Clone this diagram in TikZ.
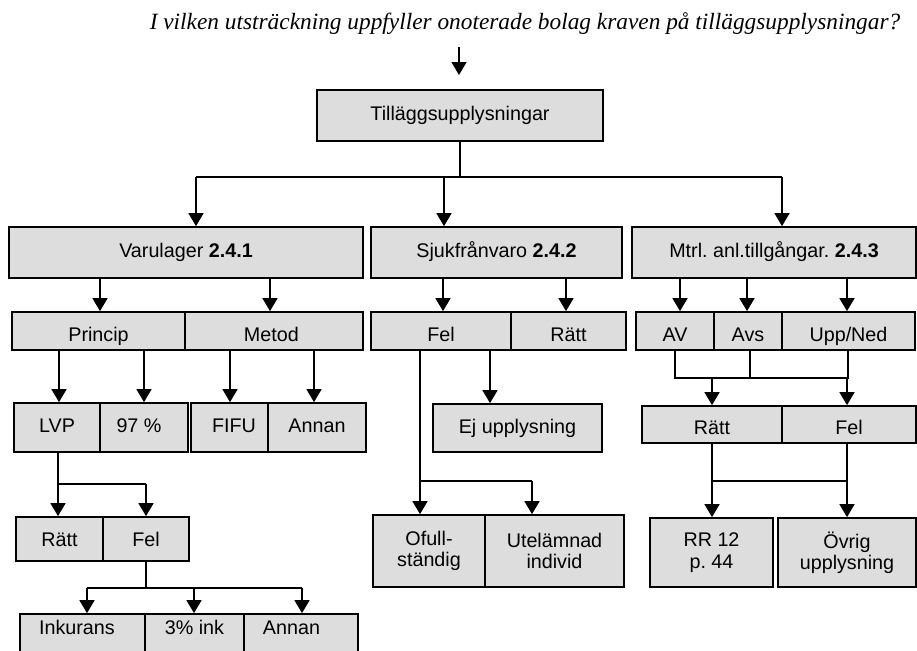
\documentclass[tikz,border=0pt]{standalone}
\usepackage{fontspec}
\setmainfont{Liberation Sans}
\newfontfamily\titlefont{Liberation Serif}
\usetikzlibrary{arrows.meta}
\definecolor{boxgray}{RGB}{221,221,221}
\frenchspacing
\newcommand\bx[7]{\node[#1, minimum width={(#5-#3)*0.75pt}, minimum height={(#6-#4)*0.75pt}] (#2) at ({(#3+#5)/2},{(#4+#6)/2}) {#7};}
\begin{document}
\begin{tikzpicture}[x=0.75pt,y=-0.75pt,
  base/.style={draw, line width=1.3pt, fill=boxgray, inner sep=0pt, anchor=center,
    font=\fontsize{14.8}{16}\selectfont},
  box/.style={base, text height=11pt, text depth=3.5pt},
  low/.style={box, text height=18.5pt},
  lowish/.style={box, text height=15pt},
  high/.style={box, text depth=17pt},
  two/.style={base, align=center},
  ln/.style={line width=1.2pt},
  arr/.style={ln, -{Triangle[length=9.75pt,width=11.25pt]}},
  ttl/.style={font=\titlefont\itshape\fontsize{17.5}{20}\selectfont, inner sep=0pt}]
\clip (0,0) rectangle (917,650);
\node[ttl, anchor=base] (title) at (525,29) {I vilken utsträckning uppfyller onoterade bolag kraven på tilläggsupplysningar?};
\coordinate (qs) at (459,47);
\coordinate (qe) at (459,75);
\draw[arr] (qs) -- (qe);

% boxes
\bx{box}{T}{317}{90}{603}{141}{Tilläggsupplysningar}
\bx{box}{V}{9}{227}{363}{278}{Varulager \textbf{2.4.1}}
\bx{box}{S}{371}{227}{622}{278}{Sjukfrånvaro \textbf{2.4.2}}
\bx{box}{M}{632}{227}{916}{278}{Mtrl. anl.tillgångar. \textbf{2.4.3}}
\bx{low}{Pr}{12}{312}{185}{350}{Princip}
\bx{low}{Me}{185}{312}{363}{350}{Metod\hspace*{4pt}}
\bx{low}{SF}{371}{312}{511}{350}{Fel}
\bx{low}{SR}{511}{312}{626}{350}{Rätt}
\bx{low}{AV}{636}{312}{714}{350}{AV}
\bx{low}{Avs}{714}{312}{782}{350}{Avs}
\bx{low}{UN}{782}{312}{915}{350}{Upp/Ned}
\bx{box}{LVP}{14}{403}{100}{452}{LVP}
\bx{box}{P97}{100}{403}{188}{452}{97 \%\hspace*{7.5pt}}
\bx{box}{FIFU}{191}{403}{268}{452}{\hspace*{6.75pt}FIFU}
\bx{box}{AnA}{268}{403}{366}{452}{Annan}
\bx{box}{Ej}{433}{404}{602}{452}{Ej upplysning}
\bx{low}{MR}{642}{406}{782}{443}{Rätt}
\bx{low}{MF}{782}{406}{916}{443}{Fel}
\bx{lowish}{LR}{16}{517}{103}{561}{Rätt}
\bx{lowish}{LF}{103}{517}{189}{561}{Fel}
\bx{two}{Of}{373}{515}{485}{587}{Ofull-\\ständig}
\bx{two}{Ut}{485}{515}{624}{587}{Utelämnad\\individ}
\bx{two}{RR}{650}{518}{773}{587}{RR 12\\p. 44}
\bx{two}{Ov}{778}{518}{916}{587}{Övrig\\upplysning}
\bx{high}{Ink}{20}{614}{145}{662}{Inkurans\hspace*{8.4pt}}
\bx{high}{InkT}{145}{614}{244}{662}{3\% ink}
\bx{high}{AnB}{244}{614}{358}{662}{Annan\hspace*{14.25pt}}

% top level branching
\coordinate (j0) at (460,177);
\coordinate (jl) at (196,177);
\coordinate (jm) at (444,177);
\coordinate (jr) at (782,177);
\draw[ln] (T.south -| j0) -- (j0);
\draw[ln] (jl) -- (jr);
\draw[arr] (jl) -- (V.north -| jl);
\draw[arr] (jm) -- (S.north -| jm);
\draw[arr] (jr) -- (M.north -| jr);

% level 2 -> 3
\draw[arr] (V.south -| 100,0) -- (Pr.north -| 100,0);
\draw[arr] (V.south -| 270,0) -- (Me.north -| 270,0);
\draw[arr] (S.south -| 443,0) -- (SF.north -| 443,0);
\draw[arr] (S.south -| 566,0) -- (SR.north -| 566,0);
\draw[arr] (M.south -| 680,0) -- (AV.north -| 680,0);
\draw[arr] (M.south -| 747,0) -- (Avs.north -| 747,0);
\draw[arr] (M.south -| 847,0) -- (UN.north -| 847,0);

% level 3 -> 4
\draw[arr] (Pr.south -| 59,0) -- (LVP.north -| 59,0);
\draw[arr] (Pr.south -| 144,0) -- (P97.north -| 144,0);
\draw[arr] (Me.south -| 230,0) -- (FIFU.north -| 230,0);
\draw[arr] (Me.south -| 314,0) -- (AnA.north -| 314,0);
\draw[arr] (SF.south -| 490,0) -- (Ej.north -| 490,0);

% Sjukfranvaro Fel -> Ofull / Utelamnad
\coordinate (sj1) at (420,481);
\coordinate (sj2) at (532,481);
\draw[arr] (SF.south -| sj1) -- (Of.north -| sj1);
\draw[ln] (sj1) -- (sj2);
\draw[arr] (sj2) -- (Ut.north -| sj2);

% Mtrl: AV / Avs / Upp -> Ratt / Fel
\coordinate (mj1) at (675,378);
\coordinate (mj2) at (750,378);
\coordinate (mj3) at (848,378);
\coordinate (ma) at (712,378);
\coordinate (mb) at (847,378);
\draw[ln] (AV.south -| mj1) -- (mj1) -- (mj3) -- (UN.south -| mj3);
\draw[ln] (Avs.south -| mj2) -- (mj2);
\draw[arr] (ma) -- (MR.north -| ma);
\draw[arr] (mb) -- (MF.north -| mb);

% Mtrl Ratt / Fel -> RR 12 / Ovrig
\coordinate (rj1) at (712,481);
\coordinate (rj2) at (847,481);
\draw[ln] (MR.south -| rj1) -- (rj1) -- (rj2) -- (MF.south -| rj2);
\draw[arr] (rj1) -- (RR.north -| rj1);
\draw[arr] (rj2) -- (Ov.north -| rj2);

% LVP -> Ratt / Fel
\coordinate (lj1) at (58,484);
\coordinate (lj2) at (146,484);
\draw[arr] (LVP.south -| lj1) -- (LR.north -| lj1);
\draw[ln] (lj1) -- (lj2);
\draw[arr] (lj2) -- (LF.north -| lj2);

% Fel -> Inkurans / 3% ink / Annan
\coordinate (fj0) at (146,588);
\coordinate (fj1) at (87,588);
\coordinate (fj2) at (194,588);
\coordinate (fj3) at (302,588);
\draw[ln] (LF.south -| fj0) -- (fj0);
\draw[ln] (fj1) -- (fj3);
\draw[arr] (fj1) -- (Ink.north -| fj1);
\draw[arr] (fj2) -- (InkT.north -| fj2);
\draw[arr] (fj3) -- (AnB.north -| fj3);
\end{tikzpicture}
\end{document}
